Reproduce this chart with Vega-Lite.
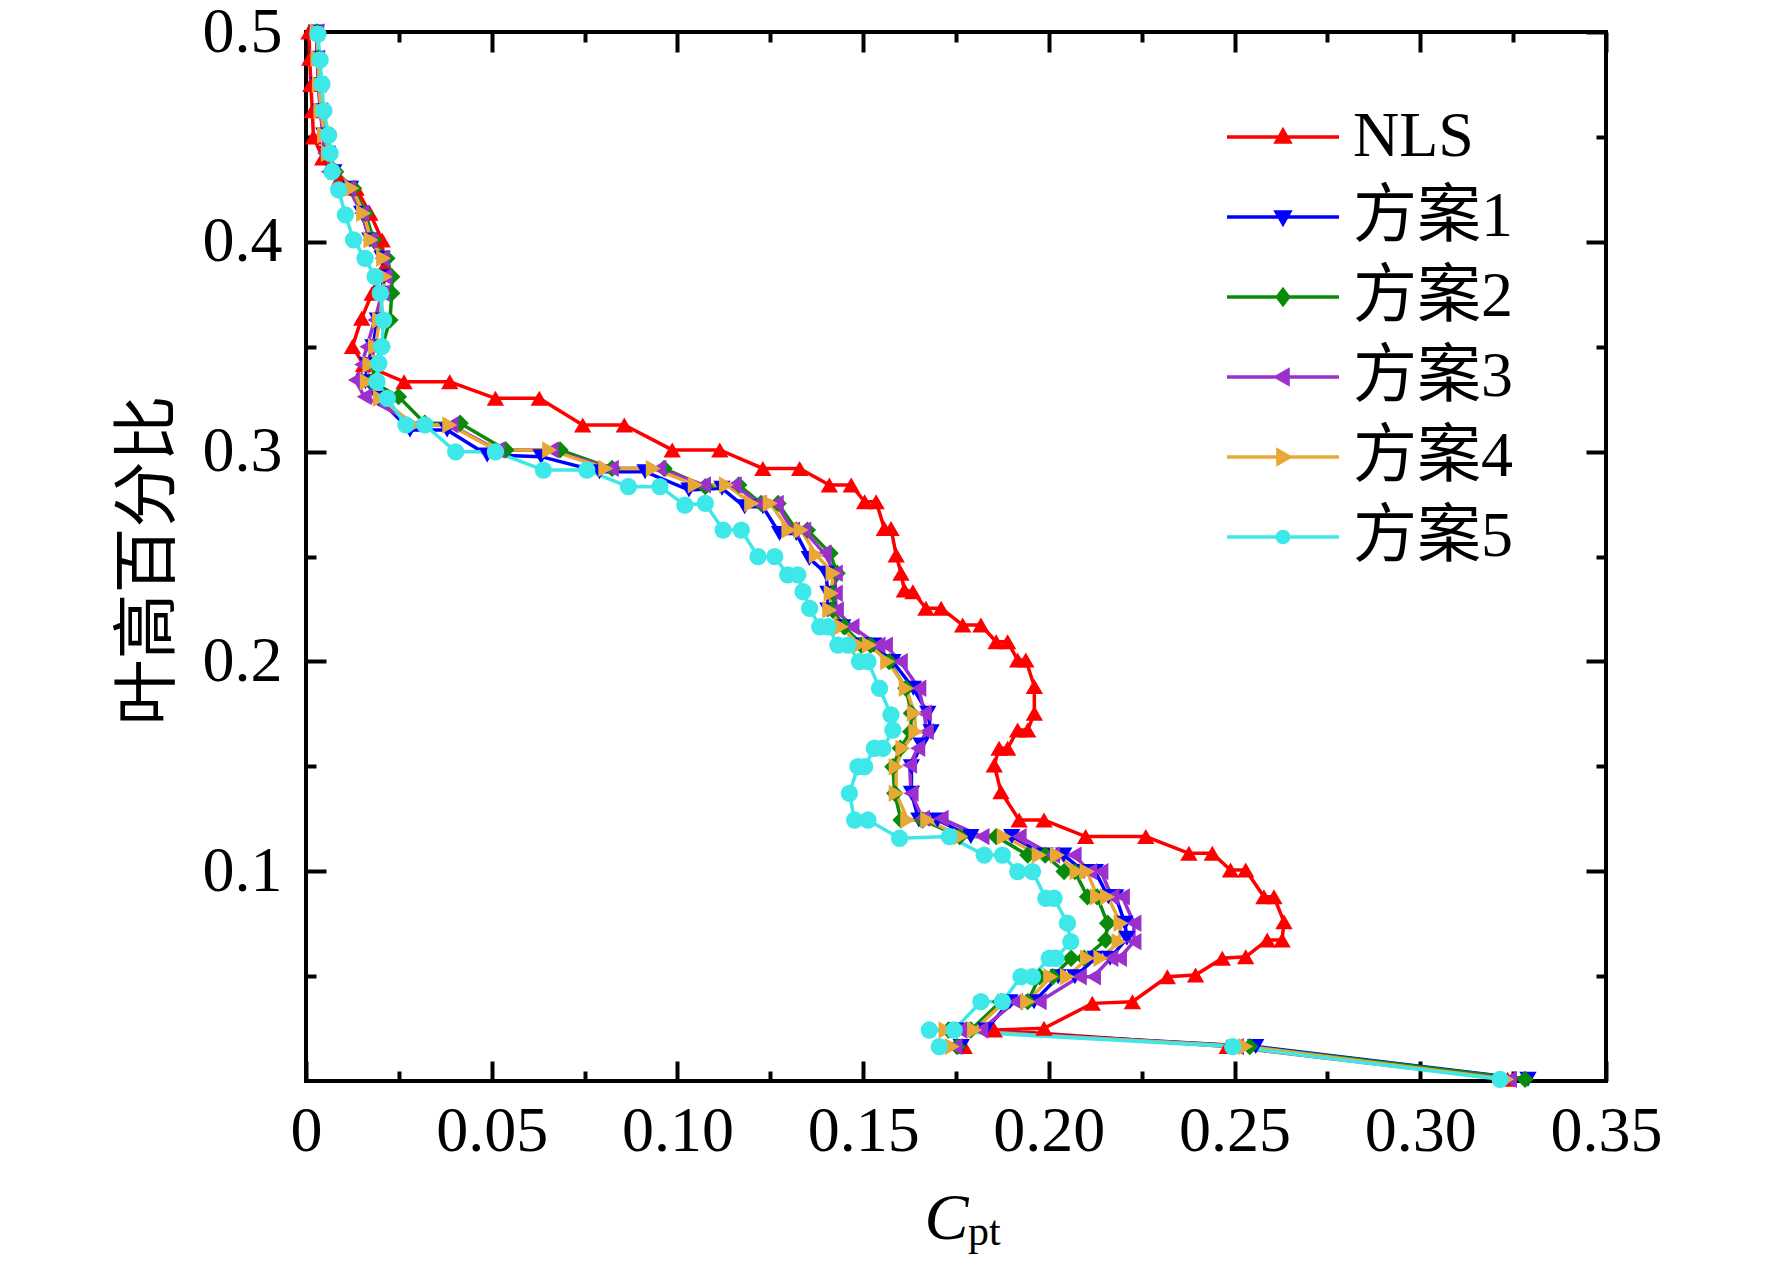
{
  "$schema": "https://vega.github.io/schema/vega-lite/v6.json",
  "width": 1300,
  "height": 1049,
  "autosize": {"type": "none"},
  "padding": {"left": 306, "top": 32, "right": 166, "bottom": 182},
  "background": "white",
  "config": {
    "view": {"stroke": "black", "strokeWidth": 4},
    "font": "Liberation Serif",
    "axis": {"grid": false, "domain": false, "tickColor": "black", "tickWidth": 4, "labelColor": "black", "titleColor": "black", "labelFont": "Liberation Serif", "labelFontSize": 64, "labelFlush": false, "labelOverlap": false}
  },
  "datasets": {
    "profile": [
      {"s":"NLS","i":1,"x":0.0008,"y":0.5},{"s":"NLS","i":2,"x":0.001,"y":0.4875},{"s":"NLS","i":3,"x":0.0013,"y":0.475},{"s":"NLS","i":4,"x":0.0017,"y":0.4625},{"s":"NLS","i":5,"x":0.002,"y":0.45},{"s":"NLS","i":6,"x":0.0045,"y":0.44},{"s":"NLS","i":7,"x":0.009,"y":0.43},{"s":"NLS","i":8,"x":0.0135,"y":0.4255},{"s":"NLS","i":9,"x":0.0172,"y":0.4136},{"s":"NLS","i":10,"x":0.0205,"y":0.4009},{"s":"NLS","i":11,"x":0.021,"y":0.388},{"s":"NLS","i":12,"x":0.0178,"y":0.3755},{"s":"NLS","i":13,"x":0.015,"y":0.3636},{"s":"NLS","i":14,"x":0.0125,"y":0.3501},{"s":"NLS","i":15,"x":0.0155,"y":0.3415},{"s":"NLS","i":16,"x":0.0264,"y":0.3333},{"s":"NLS","i":17,"x":0.0387,"y":0.3333},{"s":"NLS","i":18,"x":0.051,"y":0.3254},{"s":"NLS","i":19,"x":0.0628,"y":0.3254},{"s":"NLS","i":20,"x":0.0745,"y":0.3127},{"s":"NLS","i":21,"x":0.0857,"y":0.3127},{"s":"NLS","i":22,"x":0.0986,"y":0.3008},{"s":"NLS","i":23,"x":0.1114,"y":0.3008},{"s":"NLS","i":24,"x":0.123,"y":0.292},{"s":"NLS","i":25,"x":0.1329,"y":0.292},{"s":"NLS","i":26,"x":0.1409,"y":0.2841},{"s":"NLS","i":27,"x":0.1468,"y":0.2841},{"s":"NLS","i":28,"x":0.1504,"y":0.2761},{"s":"NLS","i":29,"x":0.1535,"y":0.2761},{"s":"NLS","i":30,"x":0.1557,"y":0.2634},{"s":"NLS","i":31,"x":0.1575,"y":0.2634},{"s":"NLS","i":32,"x":0.1589,"y":0.2507},{"s":"NLS","i":33,"x":0.1602,"y":0.242},{"s":"NLS","i":34,"x":0.1611,"y":0.234},{"s":"NLS","i":35,"x":0.1634,"y":0.2332},{"s":"NLS","i":36,"x":0.1669,"y":0.2253},{"s":"NLS","i":37,"x":0.171,"y":0.2253},{"s":"NLS","i":38,"x":0.1768,"y":0.2173},{"s":"NLS","i":39,"x":0.1817,"y":0.2173},{"s":"NLS","i":40,"x":0.1858,"y":0.2094},{"s":"NLS","i":41,"x":0.1889,"y":0.2094},{"s":"NLS","i":42,"x":0.1916,"y":0.2007},{"s":"NLS","i":43,"x":0.1938,"y":0.2007},{"s":"NLS","i":44,"x":0.1961,"y":0.188},{"s":"NLS","i":45,"x":0.1961,"y":0.1753},{"s":"NLS","i":46,"x":0.1943,"y":0.1673},{"s":"NLS","i":47,"x":0.1916,"y":0.1673},{"s":"NLS","i":48,"x":0.1889,"y":0.1586},{"s":"NLS","i":49,"x":0.1866,"y":0.1586},{"s":"NLS","i":50,"x":0.1853,"y":0.1506},{"s":"NLS","i":51,"x":0.1871,"y":0.1379},{"s":"NLS","i":52,"x":0.192,"y":0.1244},{"s":"NLS","i":53,"x":0.1987,"y":0.1244},{"s":"NLS","i":54,"x":0.2099,"y":0.1165},{"s":"NLS","i":55,"x":0.2261,"y":0.1165},{"s":"NLS","i":56,"x":0.2377,"y":0.1085},{"s":"NLS","i":57,"x":0.244,"y":0.1085},{"s":"NLS","i":58,"x":0.2489,"y":0.1006},{"s":"NLS","i":59,"x":0.253,"y":0.1006},{"s":"NLS","i":60,"x":0.2579,"y":0.0878},{"s":"NLS","i":61,"x":0.2606,"y":0.0878},{"s":"NLS","i":62,"x":0.2633,"y":0.0759},{"s":"NLS","i":63,"x":0.2628,"y":0.0672},{"s":"NLS","i":64,"x":0.2588,"y":0.0672},{"s":"NLS","i":65,"x":0.253,"y":0.0592},{"s":"NLS","i":66,"x":0.2467,"y":0.0585},{"s":"NLS","i":67,"x":0.2395,"y":0.0505},{"s":"NLS","i":68,"x":0.2319,"y":0.0497},{"s":"NLS","i":69,"x":0.2225,"y":0.0378},{"s":"NLS","i":70,"x":0.2117,"y":0.037},{"s":"NLS","i":71,"x":0.1987,"y":0.0251},{"s":"NLS","i":72,"x":0.1853,"y":0.0243},{"s":"NLS","i":73,"x":0.248,"y":0.0164},{"s":"NLS","i":74,"x":0.3235,"y":0.0008},

      {"s":"方案1","i":1,"x":0.0028,"y":0.5},{"s":"方案1","i":2,"x":0.003,"y":0.4875},{"s":"方案1","i":3,"x":0.0034,"y":0.475},{"s":"方案1","i":4,"x":0.0038,"y":0.4625},{"s":"方案1","i":5,"x":0.0048,"y":0.4509},{"s":"方案1","i":6,"x":0.0058,"y":0.4422},{"s":"方案1","i":7,"x":0.0075,"y":0.4334},{"s":"方案1","i":8,"x":0.012,"y":0.4255},{"s":"方案1","i":9,"x":0.015,"y":0.4136},{"s":"方案1","i":10,"x":0.0172,"y":0.4009},{"s":"方案1","i":11,"x":0.0205,"y":0.3921},{"s":"方案1","i":12,"x":0.021,"y":0.3834},{"s":"方案1","i":13,"x":0.0203,"y":0.3755},{"s":"方案1","i":14,"x":0.0192,"y":0.3627},{"s":"方案1","i":15,"x":0.018,"y":0.35},{"s":"方案1","i":16,"x":0.0165,"y":0.3415},{"s":"方案1","i":17,"x":0.016,"y":0.3333},{"s":"方案1","i":18,"x":0.0195,"y":0.3254},{"s":"方案1","i":19,"x":0.028,"y":0.3103},{"s":"方案1","i":20,"x":0.038,"y":0.3103},{"s":"方案1","i":21,"x":0.0488,"y":0.2984},{"s":"方案1","i":22,"x":0.0633,"y":0.2976},{"s":"方案1","i":23,"x":0.079,"y":0.2904},{"s":"方案1","i":24,"x":0.0913,"y":0.2904},{"s":"方案1","i":25,"x":0.1031,"y":0.2817},{"s":"方案1","i":26,"x":0.112,"y":0.2825},{"s":"方案1","i":27,"x":0.1181,"y":0.2737},{"s":"方案1","i":28,"x":0.123,"y":0.2737},{"s":"方案1","i":29,"x":0.1275,"y":0.261},{"s":"方案1","i":30,"x":0.132,"y":0.261},{"s":"方案1","i":31,"x":0.1355,"y":0.2491},{"s":"方案1","i":32,"x":0.14,"y":0.242},{"s":"方案1","i":33,"x":0.1405,"y":0.2325},{"s":"方案1","i":34,"x":0.1405,"y":0.2245},{"s":"方案1","i":35,"x":0.1445,"y":0.2165},{"s":"方案1","i":36,"x":0.15,"y":0.2078},{"s":"方案1","i":37,"x":0.1528,"y":0.2078},{"s":"方案1","i":38,"x":0.158,"y":0.1999},{"s":"方案1","i":39,"x":0.1635,"y":0.1872},{"s":"方案1","i":40,"x":0.1674,"y":0.1753},{"s":"方案1","i":41,"x":0.1683,"y":0.1665},{"s":"方案1","i":42,"x":0.1656,"y":0.1602},{"s":"方案1","i":43,"x":0.163,"y":0.1498},{"s":"方案1","i":44,"x":0.163,"y":0.1371},{"s":"方案1","i":45,"x":0.165,"y":0.1244},{"s":"方案1","i":46,"x":0.17,"y":0.1244},{"s":"方案1","i":47,"x":0.179,"y":0.1165},{"s":"方案1","i":48,"x":0.19,"y":0.1165},{"s":"方案1","i":49,"x":0.199,"y":0.1077},{"s":"方案1","i":50,"x":0.204,"y":0.1077},{"s":"方案1","i":51,"x":0.2095,"y":0.0998},{"s":"方案1","i":52,"x":0.2125,"y":0.0998},{"s":"方案1","i":53,"x":0.216,"y":0.0878},{"s":"方案1","i":54,"x":0.218,"y":0.0878},{"s":"方案1","i":55,"x":0.2205,"y":0.0752},{"s":"方案1","i":56,"x":0.221,"y":0.068},{"s":"方案1","i":57,"x":0.2165,"y":0.0585},{"s":"方案1","i":58,"x":0.2125,"y":0.0585},{"s":"方案1","i":59,"x":0.207,"y":0.0497},{"s":"方案1","i":60,"x":0.2025,"y":0.0497},{"s":"方案1","i":61,"x":0.196,"y":0.0378},{"s":"方案1","i":62,"x":0.1895,"y":0.0378},{"s":"方案1","i":63,"x":0.183,"y":0.0243},{"s":"方案1","i":64,"x":0.175,"y":0.0243},{"s":"方案1","i":65,"x":0.2557,"y":0.0164},{"s":"方案1","i":66,"x":0.329,"y":0.0008},

      {"s":"方案2","i":1,"x":0.003,"y":0.5},{"s":"方案2","i":2,"x":0.0033,"y":0.4875},{"s":"方案2","i":3,"x":0.0037,"y":0.475},{"s":"方案2","i":4,"x":0.0042,"y":0.4625},{"s":"方案2","i":5,"x":0.0052,"y":0.4509},{"s":"方案2","i":6,"x":0.0062,"y":0.4422},{"s":"方案2","i":7,"x":0.008,"y":0.4334},{"s":"方案2","i":8,"x":0.0128,"y":0.4255},{"s":"方案2","i":9,"x":0.016,"y":0.4136},{"s":"方案2","i":10,"x":0.0182,"y":0.4009},{"s":"方案2","i":11,"x":0.0218,"y":0.3921},{"s":"方案2","i":12,"x":0.0231,"y":0.3834},{"s":"方案2","i":13,"x":0.0231,"y":0.3755},{"s":"方案2","i":14,"x":0.0226,"y":0.3627},{"s":"方案2","i":15,"x":0.0205,"y":0.35},{"s":"方案2","i":16,"x":0.0185,"y":0.3415},{"s":"方案2","i":17,"x":0.0178,"y":0.3333},{"s":"方案2","i":18,"x":0.0249,"y":0.3262},{"s":"方案2","i":19,"x":0.032,"y":0.3135},{"s":"方案2","i":20,"x":0.0415,"y":0.3135},{"s":"方案2","i":21,"x":0.0538,"y":0.3008},{"s":"方案2","i":22,"x":0.0684,"y":0.3008},{"s":"方案2","i":23,"x":0.0824,"y":0.292},{"s":"方案2","i":24,"x":0.0964,"y":0.292},{"s":"方案2","i":25,"x":0.1075,"y":0.2833},{"s":"方案2","i":26,"x":0.1165,"y":0.2841},{"s":"方案2","i":27,"x":0.1225,"y":0.2753},{"s":"方案2","i":28,"x":0.1271,"y":0.2753},{"s":"方案2","i":29,"x":0.132,"y":0.2626},{"s":"方案2","i":30,"x":0.135,"y":0.2626},{"s":"方案2","i":31,"x":0.1411,"y":0.2516},{"s":"方案2","i":32,"x":0.143,"y":0.242},{"s":"方案2","i":33,"x":0.142,"y":0.2325},{"s":"方案2","i":34,"x":0.1418,"y":0.2245},{"s":"方案2","i":35,"x":0.145,"y":0.2165},{"s":"方案2","i":36,"x":0.1495,"y":0.2078},{"s":"方案2","i":37,"x":0.152,"y":0.2078},{"s":"方案2","i":38,"x":0.157,"y":0.1999},{"s":"方案2","i":39,"x":0.1615,"y":0.1872},{"s":"方案2","i":40,"x":0.163,"y":0.1753},{"s":"方案2","i":41,"x":0.1628,"y":0.1665},{"s":"方案2","i":42,"x":0.16,"y":0.1586},{"s":"方案2","i":43,"x":0.158,"y":0.1498},{"s":"方案2","i":44,"x":0.1585,"y":0.1371},{"s":"方案2","i":45,"x":0.1602,"y":0.1244},{"s":"方案2","i":46,"x":0.166,"y":0.1244},{"s":"方案2","i":47,"x":0.176,"y":0.1165},{"s":"方案2","i":48,"x":0.1858,"y":0.1165},{"s":"方案2","i":49,"x":0.1943,"y":0.1077},{"s":"方案2","i":50,"x":0.199,"y":0.1077},{"s":"方案2","i":51,"x":0.2041,"y":0.0998},{"s":"方案2","i":52,"x":0.207,"y":0.0998},{"s":"方案2","i":53,"x":0.2104,"y":0.0878},{"s":"方案2","i":54,"x":0.213,"y":0.0878},{"s":"方案2","i":55,"x":0.2158,"y":0.0752},{"s":"方案2","i":56,"x":0.2153,"y":0.0672},{"s":"方案2","i":57,"x":0.2095,"y":0.0585},{"s":"方案2","i":58,"x":0.206,"y":0.0585},{"s":"方案2","i":59,"x":0.201,"y":0.0497},{"s":"方案2","i":60,"x":0.1975,"y":0.0497},{"s":"方案2","i":61,"x":0.1943,"y":0.0378},{"s":"方案2","i":62,"x":0.187,"y":0.0378},{"s":"方案2","i":63,"x":0.179,"y":0.0243},{"s":"方案2","i":64,"x":0.173,"y":0.0243},{"s":"方案2","i":65,"x":0.2541,"y":0.0164},{"s":"方案2","i":66,"x":0.3282,"y":0.0008},

      {"s":"方案3","i":1,"x":0.0029,"y":0.5},{"s":"方案3","i":2,"x":0.0031,"y":0.4875},{"s":"方案3","i":3,"x":0.0035,"y":0.475},{"s":"方案3","i":4,"x":0.0039,"y":0.4625},{"s":"方案3","i":5,"x":0.0045,"y":0.4509},{"s":"方案3","i":6,"x":0.005,"y":0.4422},{"s":"方案3","i":7,"x":0.006,"y":0.4334},{"s":"方案3","i":8,"x":0.0115,"y":0.4255},{"s":"方案3","i":9,"x":0.015,"y":0.4136},{"s":"方案3","i":10,"x":0.0172,"y":0.4009},{"s":"方案3","i":11,"x":0.0205,"y":0.3921},{"s":"方案3","i":12,"x":0.0212,"y":0.3834},{"s":"方案3","i":13,"x":0.0205,"y":0.3755},{"s":"方案3","i":14,"x":0.0185,"y":0.3627},{"s":"方案3","i":15,"x":0.0164,"y":0.35},{"s":"方案3","i":16,"x":0.015,"y":0.3415},{"s":"方案3","i":17,"x":0.0133,"y":0.3341},{"s":"方案3","i":18,"x":0.0157,"y":0.3262},{"s":"方案3","i":19,"x":0.03,"y":0.3127},{"s":"方案3","i":20,"x":0.039,"y":0.3127},{"s":"方案3","i":21,"x":0.0515,"y":0.3008},{"s":"方案3","i":22,"x":0.066,"y":0.3008},{"s":"方案3","i":23,"x":0.0822,"y":0.292},{"s":"方案3","i":24,"x":0.095,"y":0.292},{"s":"方案3","i":25,"x":0.107,"y":0.2841},{"s":"方案3","i":26,"x":0.1153,"y":0.2841},{"s":"方案3","i":27,"x":0.122,"y":0.2753},{"s":"方案3","i":28,"x":0.1266,"y":0.2753},{"s":"方案3","i":29,"x":0.131,"y":0.2626},{"s":"方案3","i":30,"x":0.134,"y":0.2626},{"s":"方案3","i":31,"x":0.1395,"y":0.2516},{"s":"方案3","i":32,"x":0.1425,"y":0.242},{"s":"方案3","i":33,"x":0.1425,"y":0.2325},{"s":"方案3","i":34,"x":0.1428,"y":0.2245},{"s":"方案3","i":35,"x":0.147,"y":0.2165},{"s":"方案3","i":36,"x":0.154,"y":0.2078},{"s":"方案3","i":37,"x":0.156,"y":0.2078},{"s":"方案3","i":38,"x":0.16,"y":0.1999},{"s":"方案3","i":39,"x":0.165,"y":0.1872},{"s":"方案3","i":40,"x":0.1665,"y":0.1753},{"s":"方案3","i":41,"x":0.167,"y":0.1665},{"s":"方案3","i":42,"x":0.1647,"y":0.1586},{"s":"方案3","i":43,"x":0.1625,"y":0.1506},{"s":"方案3","i":44,"x":0.1629,"y":0.1371},{"s":"方案3","i":45,"x":0.166,"y":0.1252},{"s":"方案3","i":46,"x":0.171,"y":0.1252},{"s":"方案3","i":47,"x":0.182,"y":0.1165},{"s":"方案3","i":48,"x":0.192,"y":0.1165},{"s":"方案3","i":49,"x":0.201,"y":0.1077},{"s":"方案3","i":50,"x":0.2068,"y":0.1077},{"s":"方案3","i":51,"x":0.211,"y":0.0998},{"s":"方案3","i":52,"x":0.214,"y":0.0998},{"s":"方案3","i":53,"x":0.217,"y":0.0878},{"s":"方案3","i":54,"x":0.2198,"y":0.0878},{"s":"方案3","i":55,"x":0.2229,"y":0.0752},{"s":"方案3","i":56,"x":0.2229,"y":0.0664},{"s":"方案3","i":57,"x":0.219,"y":0.0585},{"s":"方案3","i":58,"x":0.2167,"y":0.0585},{"s":"方案3","i":59,"x":0.212,"y":0.0497},{"s":"方案3","i":60,"x":0.2082,"y":0.0497},{"s":"方案3","i":61,"x":0.1974,"y":0.0378},{"s":"方案3","i":62,"x":0.191,"y":0.0378},{"s":"方案3","i":63,"x":0.1817,"y":0.0243},{"s":"方案3","i":64,"x":0.176,"y":0.0243},{"s":"方案3","i":65,"x":0.2505,"y":0.0164},{"s":"方案3","i":66,"x":0.324,"y":0.0008},

      {"s":"方案4","i":1,"x":0.003,"y":0.5},{"s":"方案4","i":2,"x":0.0032,"y":0.4875},{"s":"方案4","i":3,"x":0.0036,"y":0.475},{"s":"方案4","i":4,"x":0.004,"y":0.4625},{"s":"方案4","i":5,"x":0.005,"y":0.4509},{"s":"方案4","i":6,"x":0.006,"y":0.4422},{"s":"方案4","i":7,"x":0.0078,"y":0.4334},{"s":"方案4","i":8,"x":0.0124,"y":0.4255},{"s":"方案4","i":9,"x":0.0155,"y":0.4136},{"s":"方案4","i":10,"x":0.0175,"y":0.4009},{"s":"方案4","i":11,"x":0.0209,"y":0.3921},{"s":"方案4","i":12,"x":0.0213,"y":0.3834},{"s":"方案4","i":13,"x":0.0207,"y":0.3755},{"s":"方案4","i":14,"x":0.0198,"y":0.3627},{"s":"方案4","i":15,"x":0.0187,"y":0.35},{"s":"方案4","i":16,"x":0.0172,"y":0.3415},{"s":"方案4","i":17,"x":0.0165,"y":0.3333},{"s":"方案4","i":18,"x":0.02,"y":0.3254},{"s":"方案4","i":19,"x":0.0292,"y":0.3127},{"s":"方案4","i":20,"x":0.0387,"y":0.3127},{"s":"方案4","i":21,"x":0.051,"y":0.3008},{"s":"方案4","i":22,"x":0.0656,"y":0.3008},{"s":"方案4","i":23,"x":0.0807,"y":0.292},{"s":"方案4","i":24,"x":0.0935,"y":0.292},{"s":"方案4","i":25,"x":0.1048,"y":0.2841},{"s":"方案4","i":26,"x":0.1132,"y":0.2841},{"s":"方案4","i":27,"x":0.12,"y":0.2753},{"s":"方案4","i":28,"x":0.125,"y":0.2753},{"s":"方案4","i":29,"x":0.13,"y":0.2626},{"s":"方案4","i":30,"x":0.1333,"y":0.2626},{"s":"方案4","i":31,"x":0.1374,"y":0.2507},{"s":"方案4","i":32,"x":0.1419,"y":0.242},{"s":"方案4","i":33,"x":0.1414,"y":0.2325},{"s":"方案4","i":34,"x":0.141,"y":0.2245},{"s":"方案4","i":35,"x":0.1441,"y":0.2165},{"s":"方案4","i":36,"x":0.149,"y":0.2078},{"s":"方案4","i":37,"x":0.1517,"y":0.2078},{"s":"方案4","i":38,"x":0.1566,"y":0.1999},{"s":"方案4","i":39,"x":0.1616,"y":0.1872},{"s":"方案4","i":40,"x":0.1638,"y":0.1753},{"s":"方案4","i":41,"x":0.1642,"y":0.1665},{"s":"方案4","i":42,"x":0.1607,"y":0.1586},{"s":"方案4","i":43,"x":0.1589,"y":0.1498},{"s":"方案4","i":44,"x":0.1589,"y":0.1371},{"s":"方案4","i":45,"x":0.162,"y":0.1244},{"s":"方案4","i":46,"x":0.1674,"y":0.1244},{"s":"方案4","i":47,"x":0.1763,"y":0.1165},{"s":"方案4","i":48,"x":0.188,"y":0.1165},{"s":"方案4","i":49,"x":0.1974,"y":0.1077},{"s":"方案4","i":50,"x":0.2023,"y":0.1077},{"s":"方案4","i":51,"x":0.2076,"y":0.0998},{"s":"方案4","i":52,"x":0.2103,"y":0.0998},{"s":"方案4","i":53,"x":0.2131,"y":0.0878},{"s":"方案4","i":54,"x":0.2158,"y":0.0878},{"s":"方案4","i":55,"x":0.2194,"y":0.0752},{"s":"方案4","i":56,"x":0.2189,"y":0.0664},{"s":"方案4","i":57,"x":0.214,"y":0.0585},{"s":"方案4","i":58,"x":0.2104,"y":0.0585},{"s":"方案4","i":59,"x":0.205,"y":0.0497},{"s":"方案4","i":60,"x":0.2005,"y":0.0497},{"s":"方案4","i":61,"x":0.1943,"y":0.0378},{"s":"方案4","i":62,"x":0.188,"y":0.0378},{"s":"方案4","i":63,"x":0.18,"y":0.0243},{"s":"方案4","i":64,"x":0.1723,"y":0.0243},{"s":"方案4","i":65,"x":0.253,"y":0.0164},{"s":"方案4","i":66,"x":0.3233,"y":0.0008},

      {"s":"方案5","i":1,"x":0.0032,"y":0.499},{"s":"方案5","i":2,"x":0.0038,"y":0.4867},{"s":"方案5","i":3,"x":0.0043,"y":0.4752},{"s":"方案5","i":4,"x":0.0048,"y":0.4624},{"s":"方案5","i":5,"x":0.0061,"y":0.4509},{"s":"方案5","i":6,"x":0.0065,"y":0.4422},{"s":"方案5","i":7,"x":0.007,"y":0.4334},{"s":"方案5","i":8,"x":0.0088,"y":0.4247},{"s":"方案5","i":9,"x":0.0106,"y":0.4128},{"s":"方案5","i":10,"x":0.0128,"y":0.4009},{"s":"方案5","i":11,"x":0.0159,"y":0.3921},{"s":"方案5","i":12,"x":0.0186,"y":0.3834},{"s":"方案5","i":13,"x":0.02,"y":0.3755},{"s":"方案5","i":14,"x":0.0209,"y":0.3627},{"s":"方案5","i":15,"x":0.0204,"y":0.35},{"s":"方案5","i":16,"x":0.0196,"y":0.3421},{"s":"方案5","i":17,"x":0.0191,"y":0.3333},{"s":"方案5","i":18,"x":0.0219,"y":0.3254},{"s":"方案5","i":19,"x":0.0269,"y":0.3127},{"s":"方案5","i":20,"x":0.032,"y":0.3127},{"s":"方案5","i":21,"x":0.0403,"y":0.2999},{"s":"方案5","i":22,"x":0.051,"y":0.2999},{"s":"方案5","i":23,"x":0.0639,"y":0.2912},{"s":"方案5","i":24,"x":0.0756,"y":0.2912},{"s":"方案5","i":25,"x":0.0868,"y":0.2833},{"s":"方案5","i":26,"x":0.0953,"y":0.2833},{"s":"方案5","i":27,"x":0.102,"y":0.2745},{"s":"方案5","i":28,"x":0.1075,"y":0.2753},{"s":"方案5","i":29,"x":0.1123,"y":0.2626},{"s":"方案5","i":30,"x":0.1172,"y":0.2626},{"s":"方案5","i":31,"x":0.1217,"y":0.2499},{"s":"方案5","i":32,"x":0.1262,"y":0.2499},{"s":"方案5","i":33,"x":0.1297,"y":0.2412},{"s":"方案5","i":34,"x":0.1324,"y":0.2412},{"s":"方案5","i":35,"x":0.1338,"y":0.2332},{"s":"方案5","i":36,"x":0.1356,"y":0.2253},{"s":"方案5","i":37,"x":0.1383,"y":0.2165},{"s":"方案5","i":38,"x":0.1405,"y":0.2165},{"s":"方案5","i":39,"x":0.1432,"y":0.2078},{"s":"方案5","i":40,"x":0.1459,"y":0.2078},{"s":"方案5","i":41,"x":0.149,"y":0.1999},{"s":"方案5","i":42,"x":0.1513,"y":0.1999},{"s":"方案5","i":43,"x":0.1544,"y":0.1872},{"s":"方案5","i":44,"x":0.1575,"y":0.1745},{"s":"方案5","i":45,"x":0.158,"y":0.1673},{"s":"方案5","i":46,"x":0.1553,"y":0.1586},{"s":"方案5","i":47,"x":0.153,"y":0.1586},{"s":"方案5","i":48,"x":0.1504,"y":0.1498},{"s":"方案5","i":49,"x":0.1486,"y":0.1498},{"s":"方案5","i":50,"x":0.1463,"y":0.1371},{"s":"方案5","i":51,"x":0.1477,"y":0.1244},{"s":"方案5","i":52,"x":0.1513,"y":0.1244},{"s":"方案5","i":53,"x":0.1598,"y":0.1157},{"s":"方案5","i":54,"x":0.1732,"y":0.1165},{"s":"方案5","i":55,"x":0.1826,"y":0.1077},{"s":"方案5","i":56,"x":0.1875,"y":0.1077},{"s":"方案5","i":57,"x":0.1916,"y":0.0998},{"s":"方案5","i":58,"x":0.1956,"y":0.0998},{"s":"方案5","i":59,"x":0.1992,"y":0.0871},{"s":"方案5","i":60,"x":0.2014,"y":0.0871},{"s":"方案5","i":61,"x":0.205,"y":0.0752},{"s":"方案5","i":62,"x":0.2059,"y":0.0664},{"s":"方案5","i":63,"x":0.2019,"y":0.0585},{"s":"方案5","i":64,"x":0.2001,"y":0.0585},{"s":"方案5","i":65,"x":0.1956,"y":0.0497},{"s":"方案5","i":66,"x":0.1925,"y":0.0497},{"s":"方案5","i":67,"x":0.1875,"y":0.0378},{"s":"方案5","i":68,"x":0.1817,"y":0.0378},{"s":"方案5","i":69,"x":0.1745,"y":0.0243},{"s":"方案5","i":70,"x":0.1678,"y":0.0243},{"s":"方案5","i":71,"x":0.2495,"y":0.0164},{"s":"方案5","i":72,"x":0.3215,"y":0.0008}
    ],
    "extra": [
      {"s":"NLS","x":0.1772,"y":0.0164},
      {"s":"方案1","x":0.1764,"y":0.0164},
      {"s":"方案2","x":0.1753,"y":0.0164},
      {"s":"方案3","x":0.1747,"y":0.0164},
      {"s":"方案4","x":0.174,"y":0.0164},
      {"s":"方案5","x":0.1705,"y":0.0164}
    ],
    "sub": [{"t": "pt", "x": 0.1826, "y": -0.078}]
  },
  "layer": [
    {
      "data": {"name": "profile"},
      "mark": {"type": "line", "strokeWidth": 3.5},
      "encoding": {
        "x": {"field": "x", "type": "quantitative", "scale": {"domain": [0, 0.35], "nice": false, "zero": false},
          "axis": {"orient": "bottom", "values": [0, 0.05, 0.1, 0.15, 0.2, 0.25, 0.3, 0.35], "tickSize": -20, "labelPadding": 38, "labelExpr": "datum.value == 0 ? '0' : format(datum.value, '.2f')",
            "title": "C", "titleFont": "Liberation Serif", "titleFontStyle": "italic", "titleFontWeight": "normal", "titleFontSize": 66, "titleX": 640, "titleY": 157, "titleAlign": "center", "titleBaseline": "alphabetic"}},
        "y": {"field": "y", "type": "quantitative", "scale": {"domain": [0, 0.5], "nice": false, "zero": false},
          "axis": {"orient": "left", "values": [0.1, 0.2, 0.3, 0.4, 0.5], "tickSize": -20, "labelPadding": 44, "format": ".1f",
            "title": "叶高百分比", "titleFont": "Noto Sans CJK SC", "titleFontWeight": "normal", "titleFontSize": 66, "titleX": -158, "titleY": 528, "titleAlign": "center", "titleBaseline": "middle"}},
        "color": {"field": "s", "type": "nominal", "scale": {"domain": ["NLS", "方案1", "方案2", "方案3", "方案4", "方案5"], "range": ["#ff0000", "#0000ff", "#0a8a0a", "#9b30cc", "#e8a838", "#3fe8e8"]},
          "legend": {"title": null, "orient": "none", "legendX": 919, "legendY": 65, "padding": 0, "rowPadding": 0, "clipHeight": 80,
            "labelFont": "Liberation Serif, Noto Sans CJK SC", "labelFontSize": 64, "labelColor": "black", "labelOffset": 12,
            "symbolSize": 12544, "symbolStrokeWidth": 3.5, "symbolOpacity": 1,
            "encode": {"symbols": {"update": {
              "shape": {"signal": "['M-1,0H1M0,-0.12L0.12,0.09H-0.12Z','M-1,0H1M0,0.12L0.12,-0.09H-0.12Z','M-1,0H1M0,-0.13L0.1,0L0,0.13L-0.1,0Z','M-1,0H1M-0.12,0L0.09,-0.12V0.12Z','M-1,0H1M0.12,0L-0.09,-0.12V0.12Z','M-1,0H1M0.1,0A0.1,0.1,0,1,1,-0.1,0A0.1,0.1,0,1,1,0.1,0Z'][datum.index]"},
              "stroke": {"scale": "color", "field": "value"},
              "fill": {"scale": "color", "field": "value"},
              "size": {"value": 12544},
              "strokeWidth": {"value": 3.5},
              "opacity": {"value": 1}}}}}},
        "order": {"field": "i", "type": "quantitative"}
      }
    },
    {
      "data": {"name": "profile"},
      "mark": {"type": "point", "filled": true, "size": 300, "opacity": 1},
      "encoding": {
        "x": {"field": "x", "type": "quantitative", "scale": {"domain": [0, 0.35], "nice": false, "zero": false},
          "axis": {"orient": "bottom", "values": [0.025, 0.075, 0.125, 0.175, 0.225, 0.275, 0.325], "tickSize": -10, "labels": false, "title": null}},
        "y": {"field": "y", "type": "quantitative", "scale": {"domain": [0, 0.5], "nice": false, "zero": false},
          "axis": {"orient": "left", "values": [0.05, 0.15, 0.25, 0.35, 0.45], "tickSize": -10, "labels": false, "title": null}},
        "shape": {"field": "s", "type": "nominal", "scale": {"domain": ["NLS", "方案1", "方案2", "方案3", "方案4", "方案5"], "range": ["triangle-up", "triangle-down", "diamond", "triangle-left", "triangle-right", "circle"]}, "legend": null},
        "color": {"field": "s", "type": "nominal"}
      }
    },
    {
      "data": {"name": "extra"},
      "mark": {"type": "point", "filled": true, "size": 300, "opacity": 1},
      "encoding": {
        "x": {"field": "x", "type": "quantitative", "scale": {"domain": [0, 0.35], "nice": false, "zero": false},
          "axis": {"orient": "top", "values": [0, 0.05, 0.1, 0.15, 0.2, 0.25, 0.3, 0.35], "tickSize": -20, "labels": false, "title": null}},
        "y": {"field": "y", "type": "quantitative", "scale": {"domain": [0, 0.5], "nice": false, "zero": false},
          "axis": {"orient": "right", "values": [0.1, 0.2, 0.3, 0.4, 0.5], "tickSize": -20, "labels": false, "title": null}},
        "shape": {"field": "s", "type": "nominal", "legend": null},
        "color": {"field": "s", "type": "nominal"}
      }
    },
    {
      "data": {"name": "sub"},
      "mark": {"type": "text", "font": "Liberation Serif", "fontSize": 42, "align": "center", "baseline": "alphabetic", "color": "black"},
      "encoding": {
        "x": {"field": "x", "type": "quantitative", "scale": {"domain": [0, 0.35], "nice": false, "zero": false},
          "axis": {"orient": "top", "values": [0.025, 0.075, 0.125, 0.175, 0.225, 0.275, 0.325], "tickSize": -10, "labels": false, "title": null}},
        "y": {"field": "y", "type": "quantitative", "scale": {"domain": [0, 0.5], "nice": false, "zero": false},
          "axis": {"orient": "right", "values": [0.05, 0.15, 0.25, 0.35, 0.45], "tickSize": -10, "labels": false, "title": null}},
        "text": {"field": "t"}
      }
    }
  ],
  "resolve": {"axis": {"x": "independent", "y": "independent"}, "legend": {"shape": "independent"}}
}
